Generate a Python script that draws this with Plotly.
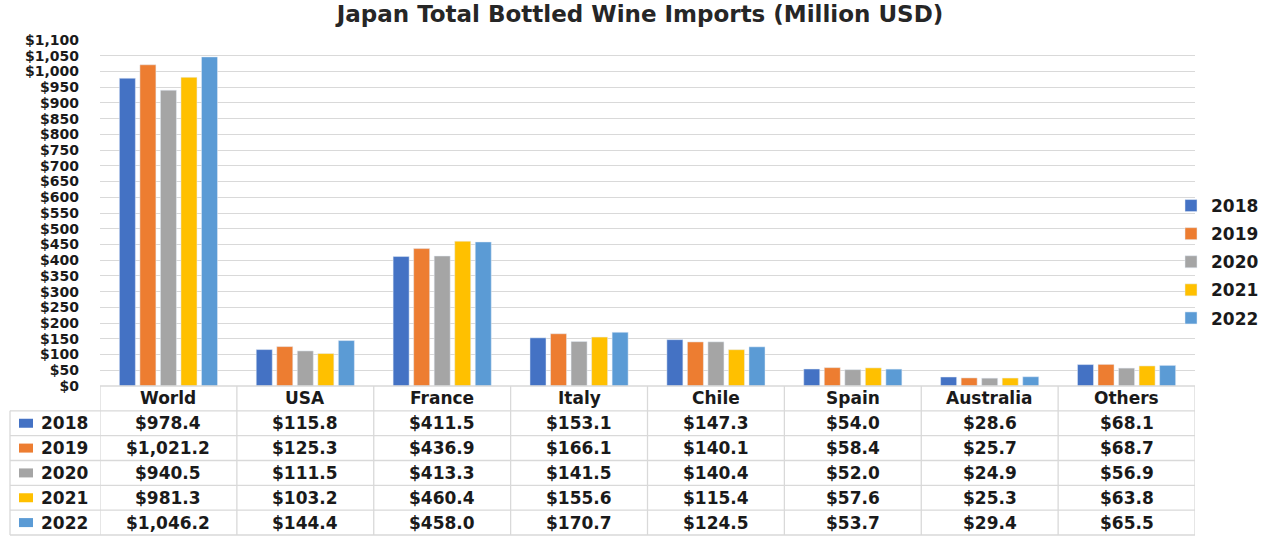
import plotly.graph_objects as go

categories = ["World", "USA", "France", "Italy", "Chile", "Spain", "Australia", "Others"]
years = ["2018", "2019", "2020", "2021", "2022"]
v2018 = [978.4, 115.8, 411.5, 153.1, 147.3, 54.0, 28.6, 68.1]
v2019 = [1021.2, 125.3, 436.9, 166.1, 140.1, 58.4, 25.7, 68.7]
v2020 = [940.5, 111.5, 413.3, 141.5, 140.4, 52.0, 24.9, 56.9]
v2021 = [981.3, 103.2, 460.4, 155.6, 115.4, 57.6, 25.3, 63.8]
v2022 = [1046.2, 144.4, 458.0, 170.7, 124.5, 53.7, 29.4, 65.5]
series = [v2018, v2019, v2020, v2021, v2022]
colors = ["#4472C4", "#ED7D31", "#A5A5A5", "#FFC000", "#5B9BD5"]
ytickvals = list(range(0, 1101, 50))
yticktext = [f"${v:,}" for v in ytickvals]

W, H = 1275, 539
ML, MR, MT, MB = 10, 80, 40, 4
PW = W - ML - MR
PH = H - MT - MB
x0 = (100 - ML) / PW          # plot area start in paper
D = (535 - 386) / PH          # table height in paper
FONT = "DejaVu Sans"
TXT = "#1a1a1a"
GRID = "#D9D9D9"

fig = go.Figure()
for yr, vals, c in zip(years, series, colors):
    fig.add_trace(go.Bar(name=yr, x=categories, y=vals, marker_color=c,
                         legendgroup=yr))

def px_x(p):
    return (p - ML) / PW

def bold(s):
    return f"<b>{s}</b>"

shapes = []
annotations = []
nrows = 6
rh = D / nrows
for r in range(nrows + 1):
    y = D - r * rh
    xs = x0 if r == 0 else px_x(10)
    shapes.append(dict(type="line", xref="paper", yref="paper", x0=xs, x1=1,
                       y0=y, y1=y, line=dict(color=GRID, width=1.3)))
for i in range(len(categories) + 1):
    shapes.append(dict(type="line", xref="x", yref="paper", x0=i - 0.5, x1=i - 0.5,
                       y0=0, y1=D, line=dict(color=GRID, width=1.3)))
shapes.append(dict(type="line", xref="paper", yref="paper", x0=px_x(10), x1=px_x(10),
                   y0=0, y1=D - rh, line=dict(color=GRID, width=1.3)))
for c in categories:
    annotations.append(dict(x=c, xref="x", y=D - rh / 2, yref="paper", text=bold(c),
                            showarrow=False, font=dict(family=FONT, size=17, color=TXT),
                            xanchor="center", yanchor="middle"))
for r, (yr, vals, col) in enumerate(zip(years, series, colors)):
    yc = D - (r + 1.5) * rh
    shapes.append(dict(type="rect", xref="paper", yref="paper",
                       x0=px_x(19), x1=px_x(33), y0=yc - 4.5 / PH, y1=yc + 4.5 / PH,
                       fillcolor=col, line=dict(width=0)))
    annotations.append(dict(x=px_x(39), xref="paper", y=yc, yref="paper", text=bold(yr),
                            showarrow=False, font=dict(family=FONT, size=17, color=TXT),
                            xanchor="left", yanchor="middle"))
    for c, v in zip(categories, vals):
        annotations.append(dict(x=c, xref="x", y=yc, yref="paper", text=bold(f"${v:,.1f}"),
                                showarrow=False, font=dict(family=FONT, size=17, color=TXT),
                                xanchor="center", yanchor="middle"))

fig.update_layout(
    width=W, height=H,
    margin=dict(l=ML, r=MR, t=MT, b=MB, autoexpand=False),
    paper_bgcolor="white", plot_bgcolor="white",
    barmode="group", bargap=0.25, bargroupgap=0.22,
    title=dict(text=bold("Japan Total Bottled Wine Imports (Million USD)"),
               x=(640 - ML) / PW, xref="paper", xanchor="center",
               y=1 - 14 / H, yref="container", yanchor="middle",
               font=dict(family=FONT, size=23, color="#262626")),
    xaxis=dict(domain=[x0, 1], range=[-0.5, 7.5], showticklabels=False,
               showgrid=False, zeroline=False, showline=False),
    yaxis=dict(domain=[D, 1], range=[0, 1100], tickvals=ytickvals, ticktext=yticktext,
               showgrid=True, gridcolor=GRID,
               gridwidth=1, zeroline=False, ticklabelstandoff=20,
               tickfont=dict(family=FONT, size=14, color=TXT, weight="bold")),
    legend=dict(x=px_x(1171), xanchor="left", y=(535 - 262) / PH, yanchor="middle",
                font=dict(family=FONT, size=17, color=TXT, weight="bold"), tracegroupgap=3,
                bgcolor="rgba(0,0,0,0)"),
    shapes=shapes, annotations=annotations,
)

fig.write_html("out.html")
